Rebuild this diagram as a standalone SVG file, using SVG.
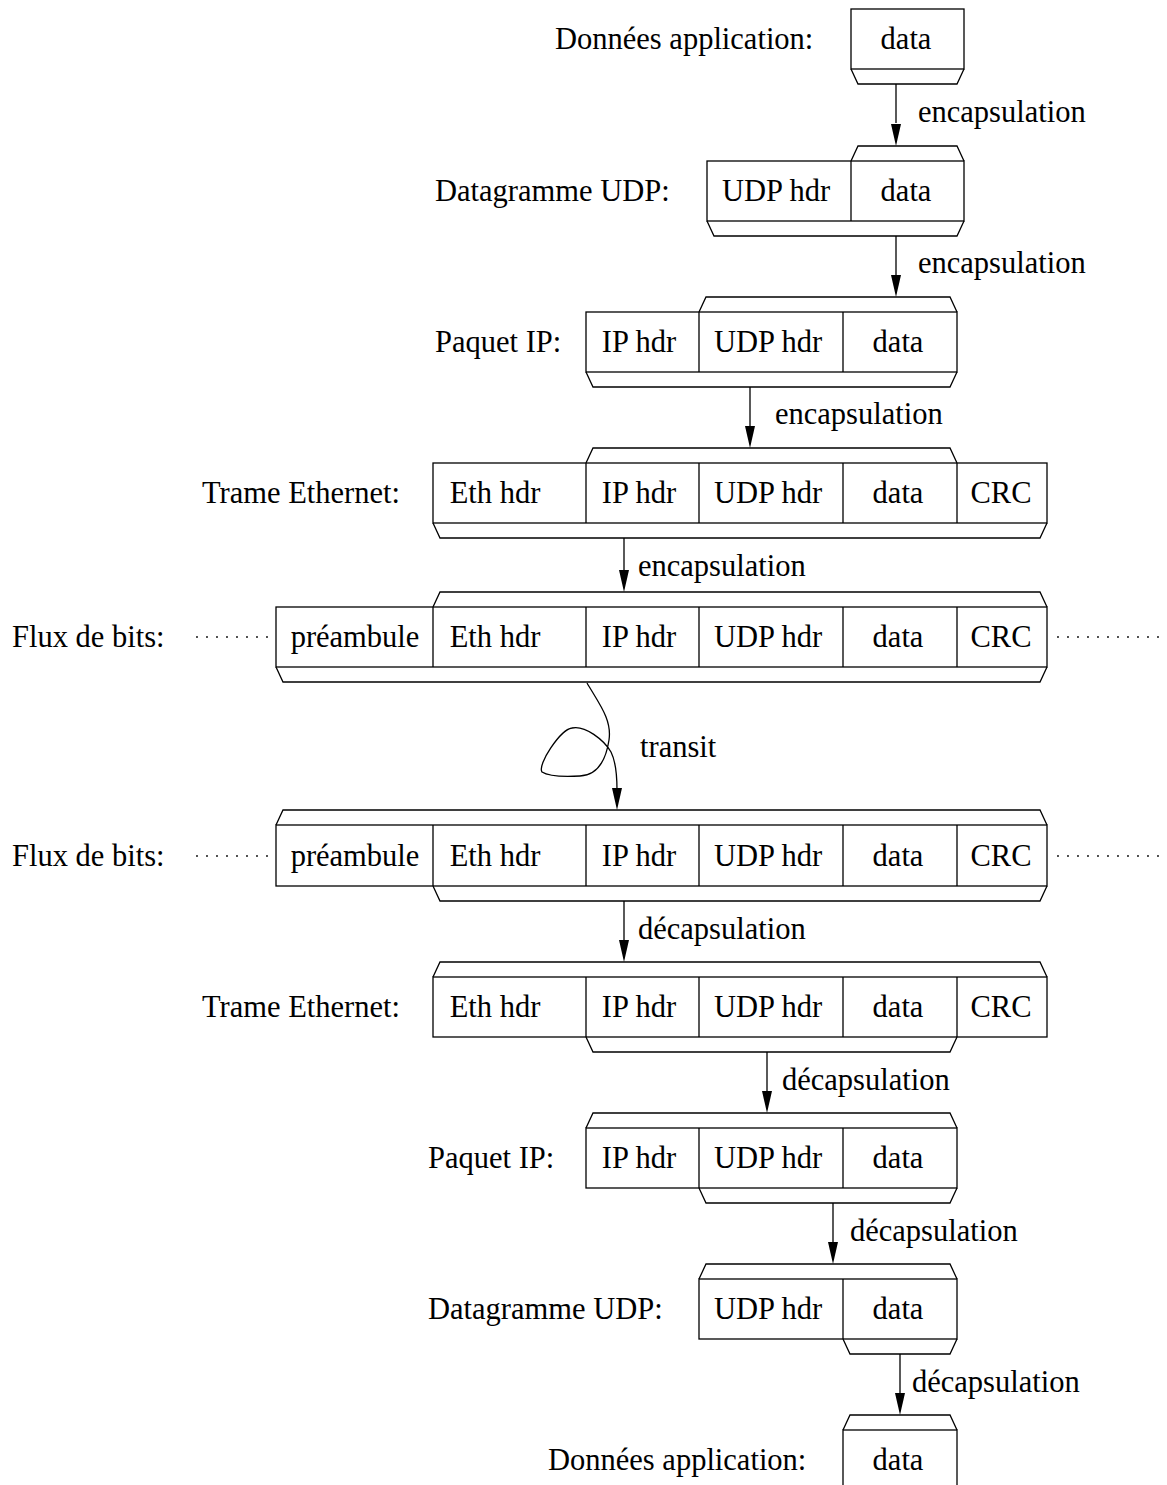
<svg xmlns="http://www.w3.org/2000/svg" width="1167" height="1485" viewBox="0 0 1167 1485">
<style>
text{font-family:"Liberation Serif","Times New Roman",serif;font-size:30.5px;fill:#000}
.c{text-anchor:middle}
.box{fill:#fff;stroke:#000;stroke-width:1.3}
.ln{fill:none;stroke:#000;stroke-width:1.3}
.dot{fill:none;stroke:#000;stroke-width:1.8;stroke-linecap:round;stroke-dasharray:0 10}
.ah{fill:#000}
</style>

<g id="connectors">
<path class="ln" d="M896,84 V123"/><path class="ah" d="M891,124 L901,124 L896,146 Z"/>
<path class="ln" d="M896,236 V275"/><path class="ah" d="M891,275 L901,275 L896,297 Z"/>
<path class="ln" d="M750,387 V426"/><path class="ah" d="M745,426 L755,426 L750,448 Z"/>
<path class="ln" d="M624,538 V570"/><path class="ah" d="M619,570 L629,570 L624,592 Z"/>
<path class="ln" d="M587,683 C600,705 612,720 609,740 C606,760 598,775 580,776 C562,777 548,776 542,772 C537,765 560,730 572,728 C585,725 604,740 611,752 C616,762 617,775 617,790"/><path class="ah" d="M612,788 L622,788 L617,810 Z"/>
<path class="ln" d="M624,901 V940"/><path class="ah" d="M619,940 L629,940 L624,962 Z"/>
<path class="ln" d="M767,1052 V1091"/><path class="ah" d="M762,1091 L772,1091 L767,1113 Z"/>
<path class="ln" d="M833,1203 V1242"/><path class="ah" d="M828,1242 L838,1242 L833,1264 Z"/>
<path class="ln" d="M900,1354 V1393"/><path class="ah" d="M895,1393 L905,1393 L900,1415 Z"/>
<text x="918" y="122">encapsulation</text>
<text x="918" y="273">encapsulation</text>
<text x="775" y="424">encapsulation</text>
<text x="638" y="576">encapsulation</text>
<text x="640" y="757">transit</text>
<text x="638" y="939">décapsulation</text>
<text x="782" y="1090">décapsulation</text>
<text x="850" y="1241">décapsulation</text>
<text x="912" y="1392">décapsulation</text>
</g>

<g id="row1">
<text x="555" y="49">Données application:</text>
<rect class="box" x="851" y="9" width="113" height="60"/>
<path class="ln" d="M851,69 L858,84 L957,84 L964,69"/>
<text class="c" x="906" y="49">data</text>
</g>

<g id="row2">
<text x="435" y="201">Datagramme UDP:</text>
<path class="ln" d="M851,161 L858,146 L957,146 L964,161"/>
<rect class="box" x="707" y="161" width="257" height="60"/>
<path class="ln" d="M851,161 V221"/>
<path class="ln" d="M707,221 L714,236 L957,236 L964,221"/>
<text class="c" x="776" y="201">UDP hdr</text>
<text class="c" x="906" y="201">data</text>
</g>

<g id="row3">
<text x="435" y="352">Paquet IP:</text>
<path class="ln" d="M699,312 L706,297 L950,297 L957,312"/>
<rect class="box" x="586" y="312" width="371" height="60"/>
<path class="ln" d="M699,312 V372 M843,312 V372"/>
<path class="ln" d="M586,372 L593,387 L950,387 L957,372"/>
<text class="c" x="639" y="352">IP hdr</text>
<text class="c" x="768" y="352">UDP hdr</text>
<text class="c" x="898" y="352">data</text>
</g>

<g id="row4">
<text x="202" y="503">Trame Ethernet:</text>
<path class="ln" d="M586,463 L593,448 L950,448 L957,463"/>
<rect class="box" x="433" y="463" width="614" height="60"/>
<path class="ln" d="M586,463 V523 M699,463 V523 M843,463 V523 M957,463 V523"/>
<path class="ln" d="M433,523 L440,538 L1040,538 L1047,523"/>
<text class="c" x="495" y="503">Eth hdr</text>
<text class="c" x="639" y="503">IP hdr</text>
<text class="c" x="768" y="503">UDP hdr</text>
<text class="c" x="898" y="503">data</text>
<text class="c" x="1001" y="503">CRC</text>
</g>

<g id="row5">
<text x="12" y="647">Flux de bits:</text>
<path class="dot" d="M197,637 H268 M1058,637 H1160"/>
<path class="ln" d="M433,607 L440,592 L1040,592 L1047,607"/>
<rect class="box" x="276" y="607" width="771" height="60"/>
<path class="ln" d="M433,607 V667 M586,607 V667 M699,607 V667 M843,607 V667 M957,607 V667"/>
<path class="ln" d="M276,667 L283,682 L1040,682 L1047,667"/>
<text class="c" x="355" y="647">préambule</text>
<text class="c" x="495" y="647">Eth hdr</text>
<text class="c" x="639" y="647">IP hdr</text>
<text class="c" x="768" y="647">UDP hdr</text>
<text class="c" x="898" y="647">data</text>
<text class="c" x="1001" y="647">CRC</text>
</g>

<g id="row6">
<text x="12" y="866">Flux de bits:</text>
<path class="dot" d="M197,856 H268 M1058,856 H1160"/>
<path class="ln" d="M276,825 L283,810 L1040,810 L1047,825"/>
<rect class="box" x="276" y="825" width="771" height="61"/>
<path class="ln" d="M433,825 V886 M586,825 V886 M699,825 V886 M843,825 V886 M957,825 V886"/>
<path class="ln" d="M433,886 L440,901 L1040,901 L1047,886"/>
<text class="c" x="355" y="866">préambule</text>
<text class="c" x="495" y="866">Eth hdr</text>
<text class="c" x="639" y="866">IP hdr</text>
<text class="c" x="768" y="866">UDP hdr</text>
<text class="c" x="898" y="866">data</text>
<text class="c" x="1001" y="866">CRC</text>
</g>

<g id="row7">
<text x="202" y="1017">Trame Ethernet:</text>
<path class="ln" d="M433,977 L440,962 L1040,962 L1047,977"/>
<rect class="box" x="433" y="977" width="614" height="60"/>
<path class="ln" d="M586,977 V1037 M699,977 V1037 M843,977 V1037 M957,977 V1037"/>
<path class="ln" d="M586,1037 L593,1052 L950,1052 L957,1037"/>
<text class="c" x="495" y="1017">Eth hdr</text>
<text class="c" x="639" y="1017">IP hdr</text>
<text class="c" x="768" y="1017">UDP hdr</text>
<text class="c" x="898" y="1017">data</text>
<text class="c" x="1001" y="1017">CRC</text>
</g>

<g id="row8">
<text x="428" y="1168">Paquet IP:</text>
<path class="ln" d="M586,1128 L593,1113 L950,1113 L957,1128"/>
<rect class="box" x="586" y="1128" width="371" height="60"/>
<path class="ln" d="M699,1128 V1188 M843,1128 V1188"/>
<path class="ln" d="M699,1188 L706,1203 L950,1203 L957,1188"/>
<text class="c" x="639" y="1168">IP hdr</text>
<text class="c" x="768" y="1168">UDP hdr</text>
<text class="c" x="898" y="1168">data</text>
</g>

<g id="row9">
<text x="428" y="1319">Datagramme UDP:</text>
<path class="ln" d="M699,1279 L706,1264 L950,1264 L957,1279"/>
<rect class="box" x="699" y="1279" width="258" height="60"/>
<path class="ln" d="M843,1279 V1339"/>
<path class="ln" d="M843,1339 L850,1354 L950,1354 L957,1339"/>
<text class="c" x="768" y="1319">UDP hdr</text>
<text class="c" x="898" y="1319">data</text>
</g>

<g id="row10">
<text x="548" y="1470">Données application:</text>
<path class="ln" d="M843,1430 L850,1415 L950,1415 L957,1430"/>
<rect class="box" x="843" y="1430" width="114" height="70"/>
<text class="c" x="898" y="1470">data</text>
</g>
</svg>
